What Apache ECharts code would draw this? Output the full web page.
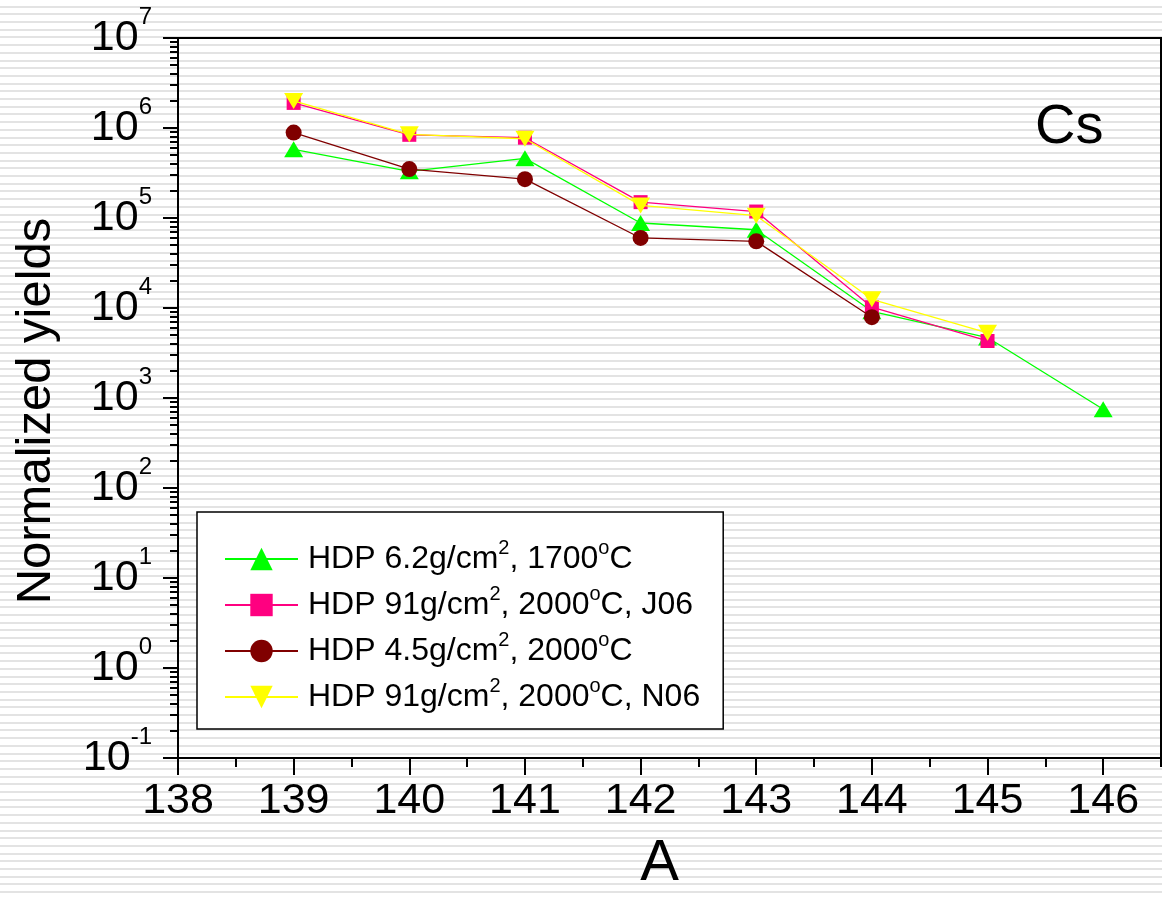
<!DOCTYPE html>
<html>
<head>
<meta charset="utf-8">
<script src="https://cdn.jsdelivr.net/npm/echarts@6/dist/echarts.min.js"></script>
<style>
html, body { margin: 0; padding: 0; width: 1162px; height: 898px; overflow: hidden;
  background: repeating-linear-gradient(to bottom, #ffffff 0px, #ffffff 5.7px, #e3e3e3 5.7px, #e3e3e3 7.7px); }
#chart { width: 1162px; height: 898px; }
</style>
</head>
<body>
<div id="chart"></div>
<script>
// ---- data ----
const massNumbers = [139, 140, 141, 142, 143, 144, 145, 146];
const seriesNames = [
  'HDP 6.2g/cm², 1700°C',
  'HDP 91g/cm², 2000°C, J06',
  'HDP 4.5g/cm², 2000°C',
  'HDP 91g/cm², 2000°C, N06'
];
const yieldsHDP62 = [5.8e5, 3.3e5, 4.6e5, 8.8e4, 7.4e4, 9.2e3, 4.7e3, 7.5e2];
const yieldsHDP91J06 = [1.9e6, 8.4e5, 7.8e5, 1.5e5, 1.18e5, 1.02e4, 4.3e3];
const yieldsHDP45 = [8.9e5, 3.5e5, 2.7e5, 6.0e4, 5.5e4, 7.9e3];
const yieldsHDP91N06 = [2.0e6, 8.5e5, 7.6e5, 1.38e5, 1.06e5, 1.25e4, 5.3e3];
const xTickValues = [138, 139, 140, 141, 142, 143, 144, 145, 146];
const xMinorTickValues = [138.5, 139.5, 140.5, 141.5, 142.5, 143.5, 144.5, 145.5, 146.5];
const yTickValues = [1e-1, 1e0, 1e1, 1e2, 1e3, 1e4, 1e5, 1e6, 1e7];
const yTickExponents = ['-1', '0', '1', '2', '3', '4', '5', '6', '7'];
const elementLabel = 'Cs';

// minor log ticks (2..9 in each decade)
const yMinorTickValues = [];
for (let e = -1; e < 7; e++) {
  for (let m = 2; m <= 9; m++) yMinorTickValues.push(m * Math.pow(10, e));
}

function pairs(vals) { return vals.map((v, i) => [massNumbers[i], v]); }

const FONT = "'Liberation Sans', Arial, sans-serif";
const colors = ['#00ff00', '#ff0080', '#800000', '#ffff00'];
const symbols = ['triangle', 'rect', 'circle', 'triangle'];
const symbolSizes = [[19, 16], 14, 16, [19, 16]];
const rotates = [0, 0, 0, 180];
const dataSets = [yieldsHDP62, yieldsHDP91J06, yieldsHDP45, yieldsHDP91N06];

const chart = echarts.init(document.getElementById('chart'), null, { renderer: 'canvas' });

function richName(name) {
  return '{t|' + name.replace('²', '}{s|2}{t|').replace('°', '}{s|o}{t|') + '}';
}

const option = {
  backgroundColor: 'transparent',
  animation: false,
  grid: {
    left: 178, top: 38, right: 1, bottom: 135,
    show: true, borderColor: '#000', borderWidth: 2, backgroundColor: 'transparent'
  },
  legend: {
    orient: 'vertical',
    left: 197, top: 512,
    padding: [26, 23, 16, 27],
    itemWidth: 73, itemHeight: 28, itemGap: 9,
    backgroundColor: '#ffffff',
    borderColor: '#000', borderWidth: 1.5, borderRadius: 0,
    data: seriesNames,
    formatter: richName,
    textStyle: {
      fontFamily: FONT, fontSize: 32, color: '#000', padding: [0, 0, 0, 5],
      rich: {
        t: { fontFamily: FONT, fontSize: 32, color: '#000' },
        s: { fontFamily: FONT, fontSize: 20, color: '#000', padding: [0, 0, 22, 0] }
      }
    }
  },
  graphic: [{
    type: 'text', left: 1035, top: 100, z: 10,
    style: { text: elementLabel, font: '56px ' + FONT, fill: '#000' }
  }],
  xAxis: [{
    type: 'value', min: 138, max: 146.5, interval: 1, position: 'bottom',
    name: 'A', nameLocation: 'middle', nameGap: 77,
    nameTextStyle: { fontFamily: FONT, fontSize: 58, color: '#000', lineHeight: 58, padding: [0, 20, 0, 0] },
    axisLine: { show: true, onZero: false, lineStyle: { color: '#000', width: 2 } },
    axisTick: { show: true, inside: false, length: 17, customValues: xTickValues, lineStyle: { color: '#000', width: 2 } },
    axisLabel: { show: true, customValues: xTickValues, margin: 22, fontFamily: FONT, fontSize: 43, lineHeight: 43, color: '#000' },
    splitLine: { show: false }
  }, {
    type: 'value', min: 138, max: 146.5, interval: 1, position: 'bottom',
    axisLine: { show: false, onZero: false },
    axisTick: { show: true, inside: false, length: 9, customValues: xMinorTickValues, lineStyle: { color: '#000', width: 2 } },
    axisLabel: { show: false },
    splitLine: { show: false }
  }],
  yAxis: [{
    type: 'log', logBase: 10, min: 1e-1, max: 1e7, position: 'left',
    name: 'Normalized yields', nameLocation: 'middle', nameGap: 117, nameRotate: 90,
    nameTextStyle: { fontFamily: FONT, fontSize: 49, color: '#000', lineHeight: 49, padding: [0, 26, 0, 0] },
    axisLine: { show: true, onZero: false, lineStyle: { color: '#000', width: 2 } },
    axisTick: { show: true, inside: false, length: 15, customValues: yTickValues, lineStyle: { color: '#000', width: 2 } },
    axisLabel: {
      show: true, customValues: yTickValues, margin: 26,
      formatter: function (v) {
        const e = Math.round(Math.log10(v));
        const idx = yTickValues.findIndex(t => Math.round(Math.log10(t)) === e);
        return '{b|10}{s|' + yTickExponents[idx] + '}';
      },
      rich: {
        b: { fontFamily: FONT, fontSize: 43, lineHeight: 43, color: '#000' },
        s: { fontFamily: FONT, fontSize: 24, color: '#000', padding: [0, 0, 42, 0] }
      }
    },
    splitLine: { show: false }
  }, {
    type: 'log', logBase: 10, min: 1e-1, max: 1e7, position: 'left',
    axisLine: { show: false, onZero: false },
    axisTick: { show: true, inside: false, length: 8, customValues: yMinorTickValues, lineStyle: { color: '#000', width: 2 } },
    axisLabel: { show: false },
    splitLine: { show: false }
  }],
  series: seriesNames.map((name, i) => ({
    name: name,
    type: 'line',
    xAxisIndex: 0, yAxisIndex: 0,
    data: pairs(dataSets[i]),
    symbol: symbols[i],
    symbolSize: symbolSizes[i],
    symbolRotate: rotates[i],
    showAllSymbol: true,
    color: colors[i],
    itemStyle: { color: colors[i], borderWidth: 0 },
    lineStyle: { color: colors[i], width: 1.3 },
    emphasis: { disabled: true },
    z: 2 + i
  }))
};

chart.setOption(option);
</script>
</body>
</html>
